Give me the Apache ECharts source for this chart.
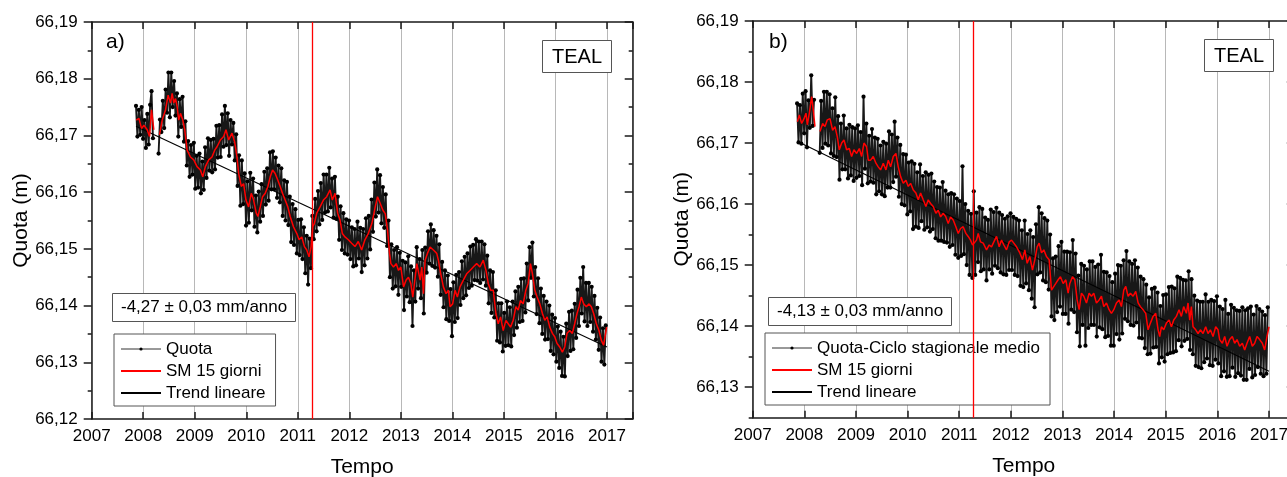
<!DOCTYPE html>
<html>
<head>
<meta charset="utf-8">
<script src="https://cdn.jsdelivr.net/npm/echarts@6/dist/echarts.min.js"></script>
<style>
  html, body { margin: 0; padding: 0; background: #fff; }
  #chart { width: 1287px; height: 477px; }
</style>
</head>
<body>
<div id="chart"></div>
<script>
// Axis ticks
const yearTicks = [2007, 2008, 2009, 2010, 2011, 2012, 2013, 2014, 2015, 2016, 2017];
const yTicksA = [66.12, 66.13, 66.14, 66.15, 66.16, 66.17, 66.18, 66.19];
const yMinorA = [66.125, 66.135, 66.145, 66.155, 66.165, 66.175, 66.185];
const yTicksB = [66.13, 66.14, 66.15, 66.16, 66.17, 66.18, 66.19];
const yMinorB = [66.125, 66.135, 66.145, 66.155, 66.165, 66.175, 66.185];

// Daily elevations sampled every 10 days from the first epoch (null = no data)
const quotaStart = 2007.86;
const quotaStepDays = 10;

// a) elevation (m)
const quotaA = [
66.1752,66.1698,66.1745,66.1701,66.1750,66.1694,66.1727,66.1678,66.1738,66.1684,
66.1754,66.1778,66.1695,null,null,null,66.1668,66.1728,66.1706,66.1761,
66.1713,66.1781,66.1740,66.1811,66.1732,66.1811,66.1750,66.1796,66.1735,66.1774,
66.1698,66.1764,66.1715,66.1768,66.1689,66.1725,66.1647,66.1690,66.1627,66.1683,
66.1631,66.1687,66.1606,66.1664,66.1608,66.1668,66.1598,66.1654,66.1604,66.1679,
66.1625,66.1695,66.1638,66.1692,66.1635,66.1694,66.1640,66.1717,66.1661,66.1718,
66.1662,66.1737,66.1680,66.1752,66.1683,66.1739,66.1664,66.1727,66.1684,66.1722,
66.1656,66.1702,66.1611,66.1665,66.1576,66.1656,66.1579,66.1633,66.1541,66.1619,
66.1546,66.1634,66.1568,66.1624,66.1539,66.1594,66.1529,66.1601,66.1548,66.1614,
66.1558,66.1636,66.1578,66.1642,66.1585,66.1670,66.1605,66.1672,66.1605,66.1661,
66.1590,66.1647,66.1582,66.1642,66.1558,66.1621,66.1550,66.1618,66.1542,66.1592,
66.1512,66.1579,66.1507,66.1570,66.1492,66.1551,66.1489,66.1552,66.1482,66.1538,
66.1457,66.1523,66.1437,66.1518,66.1466,66.1558,66.1517,66.1588,66.1531,66.1602,
66.1543,66.1616,66.1551,66.1631,66.1564,66.1631,66.1566,66.1643,66.1573,66.1624,
66.1555,66.1627,66.1553,66.1592,66.1516,66.1575,66.1498,66.1563,66.1492,66.1552,
66.1490,66.1550,66.1482,66.1538,66.1469,66.1535,66.1471,66.1548,66.1483,66.1537,
66.1459,66.1535,66.1471,66.1554,66.1483,66.1558,66.1499,66.1587,66.1530,66.1617,
66.1557,66.1640,66.1564,66.1630,66.1545,66.1609,66.1537,66.1596,66.1505,66.1550,
66.1450,66.1508,66.1430,66.1498,66.1434,66.1503,66.1419,66.1493,66.1433,66.1479,
66.1392,66.1476,66.1416,66.1487,66.1406,66.1469,66.1364,66.1462,66.1407,66.1503,
66.1430,66.1482,66.1413,66.1498,66.1386,66.1502,66.1458,66.1531,66.1474,66.1543,
66.1470,66.1533,66.1467,66.1523,66.1451,66.1508,66.1419,66.1477,66.1397,66.1462,
66.1376,66.1453,66.1373,66.1429,66.1346,66.1441,66.1371,66.1454,66.1378,66.1459,
66.1401,66.1478,66.1413,66.1486,66.1418,66.1492,66.1431,66.1504,66.1435,66.1507,
66.1445,66.1517,66.1444,66.1513,66.1440,66.1513,66.1446,66.1508,66.1435,66.1488,
66.1404,66.1462,66.1387,66.1459,66.1379,66.1427,66.1338,66.1404,66.1335,66.1404,
66.1319,66.1387,66.1329,66.1407,66.1330,66.1397,66.1328,66.1407,66.1348,66.1425,
66.1361,66.1433,66.1371,66.1447,66.1373,66.1448,66.1388,66.1474,66.1409,66.1503,
66.1449,66.1511,66.1416,66.1468,66.1385,66.1448,66.1369,66.1430,66.1350,66.1417,
66.1340,66.1407,66.1341,66.1400,66.1320,66.1384,66.1314,66.1378,66.1301,66.1363,
66.1290,66.1354,66.1276,66.1345,66.1275,66.1368,66.1311,66.1389,66.1320,66.1391,
66.1323,66.1403,66.1343,66.1428,66.1364,66.1449,66.1386,66.1468,66.1372,66.1440,
66.1364,66.1440,66.1371,66.1433,66.1354,66.1417,66.1340,66.1396,66.1322,66.1379,
66.1301,66.1360,66.1296,66.1365
];

// b) elevation minus mean seasonal cycle (m)
const quotaB = [
66.1765,66.1701,66.1762,66.1699,66.1781,66.1716,66.1785,66.1693,66.1770,66.1725,
66.1811,66.1728,66.1771,null,null,null,66.1684,66.1769,66.1692,66.1784,
66.1699,66.1784,66.1696,66.1780,66.1683,66.1757,66.1679,66.1775,66.1677,66.1744,
66.1640,66.1732,66.1657,66.1745,66.1657,66.1724,66.1642,66.1730,66.1647,66.1726,
66.1638,66.1724,66.1643,66.1729,66.1646,66.1718,66.1631,66.1776,66.1658,66.1732,
66.1634,66.1712,66.1637,66.1723,66.1635,66.1709,66.1616,66.1707,66.1621,66.1696,
66.1616,66.1702,66.1613,66.1699,66.1627,66.1719,66.1627,66.1714,66.1636,66.1735,
66.1645,66.1709,66.1612,66.1697,66.1600,66.1682,66.1598,66.1681,66.1583,66.1668,
66.1588,66.1670,66.1559,66.1666,66.1563,66.1652,66.1561,66.1665,66.1572,66.1646,
66.1558,66.1652,66.1562,66.1648,66.1555,66.1650,66.1559,66.1637,66.1544,66.1628,
66.1540,66.1627,66.1540,66.1636,66.1538,66.1622,66.1537,66.1616,66.1530,66.1618,
66.1533,66.1616,66.1517,66.1609,66.1512,66.1605,66.1515,66.1662,66.1518,66.1600,
66.1500,66.1589,66.1484,66.1584,66.1479,66.1621,66.1484,66.1586,66.1505,66.1595,
66.1490,66.1592,66.1493,66.1578,66.1475,66.1574,66.1493,66.1591,66.1486,66.1587,
66.1499,66.1594,66.1495,66.1586,66.1488,66.1582,66.1485,66.1576,66.1484,66.1580,
66.1492,66.1585,66.1492,66.1579,66.1484,66.1576,66.1482,66.1573,66.1466,66.1557,
66.1464,66.1573,66.1470,66.1551,66.1459,66.1557,66.1445,66.1546,66.1431,66.1567,
66.1485,66.1595,66.1488,66.1585,66.1475,66.1577,66.1472,66.1573,66.1460,66.1550,
66.1416,66.1511,66.1410,66.1514,66.1423,66.1531,66.1432,66.1538,66.1420,66.1522,
66.1420,66.1522,66.1404,66.1521,66.1427,66.1541,66.1423,66.1519,66.1390,66.1483,
66.1367,66.1502,66.1402,66.1499,66.1368,66.1493,66.1397,66.1506,66.1402,66.1506,
66.1402,66.1497,66.1383,66.1501,66.1398,66.1517,66.1395,66.1489,66.1382,66.1488,
66.1384,66.1482,66.1368,66.1472,66.1368,66.1486,66.1387,66.1500,66.1378,66.1499,
66.1388,66.1508,66.1412,66.1523,66.1408,66.1506,66.1402,66.1502,66.1401,66.1508,
66.1406,66.1496,66.1381,66.1481,66.1380,66.1477,66.1364,66.1468,66.1354,66.1447,
66.1355,66.1461,66.1365,66.1463,66.1366,66.1455,66.1339,66.1433,66.1349,66.1451,
66.1342,66.1452,66.1354,66.1464,66.1356,66.1465,66.1357,66.1462,66.1359,66.1481,
66.1377,66.1479,66.1367,66.1476,66.1376,66.1475,66.1379,66.1490,66.1361,66.1477,
66.1354,66.1450,66.1335,66.1442,66.1333,66.1440,66.1331,66.1440,66.1341,66.1452,
66.1347,66.1440,66.1336,66.1443,66.1335,66.1441,66.1345,66.1449,66.1339,66.1432,
66.1318,66.1428,66.1326,66.1443,66.1317,66.1420,66.1318,66.1435,66.1332,66.1430,
66.1317,66.1426,66.1323,66.1425,66.1319,66.1431,66.1312,66.1426,66.1312,66.1429,
66.1330,66.1432,66.1316,66.1419,66.1320,66.1433,66.1333,66.1428,66.1322,66.1424,
66.1318,66.1418,66.1322,66.1431
];

// 15-day moving average [year, m]
const smA = [
[2007.865,66.1727],[2007.916,66.1730],[2007.968,66.1712],[2008.013,66.1718],[2008.077,66.1710],
[2008.123,66.1698],[2008.161,66.1745],[2008.206,66.1710],[2008.26,null],[2008.316,66.1701],
[2008.368,66.1727],[2008.432,66.1745],[2008.484,66.1771],[2008.529,66.1757],[2008.561,66.1774],
[2008.594,66.1757],[2008.626,66.1765],[2008.658,66.1751],[2008.690,66.1727],[2008.723,66.1739],
[2008.768,66.1727],[2008.806,66.1710],[2008.852,66.1674],[2008.916,66.1662],[2008.981,66.1657],
[2009.045,66.1645],[2009.110,66.1639],[2009.155,66.1627],[2009.206,66.1645],[2009.271,66.1657],
[2009.335,66.1662],[2009.387,66.1674],[2009.432,66.1680],[2009.497,66.1692],[2009.561,66.1698],
[2009.606,66.1710],[2009.658,66.1692],[2009.723,66.1704],[2009.774,66.1689],[2009.819,66.1662],
[2009.852,66.1633],[2009.903,66.1610],[2009.948,66.1615],[2009.994,66.1586],[2010.045,66.1574],
[2010.097,66.1598],[2010.142,66.1586],[2010.194,66.1563],[2010.226,66.1557],[2010.271,66.1574],
[2010.316,66.1592],[2010.368,66.1598],[2010.419,66.1610],[2010.465,66.1627],[2010.510,66.1639],
[2010.561,66.1633],[2010.613,66.1621],[2010.658,66.1610],[2010.703,66.1598],[2010.755,66.1586],
[2010.806,66.1574],[2010.852,66.1557],[2010.916,66.1539],[2010.981,66.1527],[2011.026,66.1516],
[2011.077,66.1521],[2011.129,66.1504],[2011.174,66.1498],[2011.219,66.1486],[2011.258,66.1504],
[2011.290,66.1539],[2011.323,66.1545],[2011.368,66.1563],[2011.432,66.1574],[2011.497,66.1586],
[2011.561,66.1592],[2011.626,66.1604],[2011.671,66.1586],[2011.723,66.1598],[2011.774,66.1563],
[2011.819,66.1551],[2011.865,66.1527],[2011.916,66.1521],[2011.981,66.1516],[2012.045,66.1510],
[2012.110,66.1504],[2012.174,66.1513],[2012.239,66.1498],[2012.303,66.1516],[2012.368,66.1527],
[2012.439,66.1545],[2012.503,66.1574],[2012.548,66.1592],[2012.600,66.1580],[2012.652,66.1568],
[2012.697,66.1562],[2012.742,66.1533],[2012.781,66.1492],[2012.806,66.1474],[2012.858,66.1468],
[2012.910,66.1474],[2012.955,66.1462],[2013.000,66.1468],[2013.052,66.1433],[2013.103,66.1445],
[2013.148,66.1450],[2013.194,66.1439],[2013.232,66.1415],[2013.310,66.1474],[2013.374,66.1445],
[2013.406,66.1468],[2013.439,66.1421],[2013.471,66.1480],[2013.516,66.1492],[2013.568,66.1503],
[2013.632,66.1498],[2013.697,66.1492],[2013.729,66.1480],[2013.774,66.1456],[2013.826,66.1433],
[2013.877,66.1421],[2013.923,66.1427],[2013.955,66.1398],[2014.006,66.1403],[2014.052,66.1427],
[2014.097,66.1415],[2014.148,66.1433],[2014.213,66.1445],[2014.277,66.1456],[2014.342,66.1462],
[2014.406,66.1468],[2014.471,66.1474],[2014.535,66.1468],[2014.600,66.1480],[2014.652,66.1462],
[2014.697,66.1439],[2014.742,66.1427],[2014.794,66.1427],[2014.845,66.1386],[2014.890,66.1368],
[2014.935,66.1380],[2014.987,66.1356],[2015.039,66.1374],[2015.084,66.1368],[2015.129,66.1362],
[2015.181,66.1374],[2015.232,66.1398],[2015.277,66.1392],[2015.323,66.1409],[2015.374,66.1403],
[2015.426,66.1427],[2015.471,66.1439],[2015.516,66.1474],[2015.555,66.1456],[2015.600,66.1427],
[2015.645,66.1415],[2015.697,66.1403],[2015.748,66.1386],[2015.794,66.1374],[2015.839,66.1380],
[2015.890,66.1362],[2015.942,66.1351],[2015.987,66.1345],[2016.032,66.1333],[2016.084,66.1327],
[2016.135,66.1318],[2016.181,66.1327],[2016.226,66.1351],[2016.277,66.1356],[2016.329,66.1351],
[2016.374,66.1368],[2016.419,66.1386],[2016.458,66.1398],[2016.503,66.1415],[2016.548,66.1403],
[2016.600,66.1398],[2016.652,66.1403],[2016.697,66.1398],[2016.742,66.1386],[2016.794,66.1368],
[2016.845,66.1356],[2016.890,66.1339],[2016.935,66.1330],[2016.974,66.1351],[2016.994,66.1362]
];

const smB = [
[2007.865,66.1735],[2007.903,66.1746],[2007.948,66.1732],[2007.994,66.1740],[2008.032,66.1749],
[2008.058,66.1730],[2008.097,66.1749],[2008.142,66.1776],[2008.174,66.1754],[2008.206,66.1727],
[2008.25,null],[2008.303,66.1719],[2008.355,66.1732],[2008.400,66.1727],[2008.445,66.1738],
[2008.497,66.1740],[2008.548,66.1721],[2008.594,66.1727],[2008.639,66.1710],[2008.677,66.1689],
[2008.723,66.1700],[2008.768,66.1705],[2008.819,66.1689],[2008.871,66.1691],[2008.916,66.1678],
[2008.961,66.1689],[2009.013,66.1683],[2009.065,66.1691],[2009.110,66.1678],[2009.155,66.1700],
[2009.206,66.1694],[2009.239,66.1672],[2009.284,66.1672],[2009.335,66.1678],[2009.387,66.1667],
[2009.432,66.1661],[2009.477,66.1656],[2009.529,66.1667],[2009.581,66.1656],[2009.626,66.1672],
[2009.671,66.1661],[2009.723,66.1678],[2009.774,66.1683],[2009.819,66.1661],[2009.865,66.1645],
[2009.916,66.1634],[2009.968,66.1639],[2010.013,66.1629],[2010.058,66.1634],[2010.110,66.1623],
[2010.161,66.1618],[2010.206,66.1607],[2010.252,66.1618],[2010.303,66.1607],[2010.355,66.1596],
[2010.400,66.1607],[2010.445,66.1601],[2010.497,66.1596],[2010.548,66.1585],[2010.594,66.1590],
[2010.639,66.1579],[2010.690,66.1585],[2010.742,66.1579],[2010.787,66.1568],[2010.832,66.1579],
[2010.884,66.1574],[2010.935,66.1563],[2010.981,66.1552],[2011.026,66.1560],[2011.077,66.1563],
[2011.129,66.1552],[2011.174,66.1547],[2011.219,66.1541],[2011.258,66.1533],[2011.290,66.1530],
[2011.335,66.1541],[2011.368,66.1552],[2011.413,66.1538],[2011.465,66.1536],[2011.529,66.1525],
[2011.581,66.1533],[2011.626,66.1530],[2011.671,66.1538],[2011.723,66.1547],[2011.774,66.1530],
[2011.819,66.1541],[2011.865,66.1533],[2011.916,66.1525],[2011.968,66.1538],[2012.013,66.1541],
[2012.058,66.1536],[2012.110,66.1530],[2012.174,66.1520],[2012.226,66.1509],[2012.271,66.1525],
[2012.316,66.1503],[2012.368,66.1514],[2012.419,66.1492],[2012.465,66.1509],[2012.510,66.1530],
[2012.548,66.1536],[2012.594,66.1520],[2012.639,66.1525],[2012.690,66.1514],[2012.742,66.1509],
[2012.787,66.1459],[2012.819,66.1462],[2012.871,66.1470],[2012.916,66.1476],[2012.961,66.1481],
[2013.013,66.1470],[2013.065,66.1476],[2013.110,66.1454],[2013.142,66.1470],[2013.194,66.1481],
[2013.239,66.1476],[2013.284,66.1443],[2013.323,66.1427],[2013.368,66.1454],[2013.413,66.1449],
[2013.465,66.1438],[2013.516,66.1454],[2013.561,66.1449],[2013.606,66.1454],[2013.658,66.1438],
[2013.710,66.1443],[2013.755,66.1449],[2013.800,66.1432],[2013.852,66.1438],[2013.903,66.1427],
[2013.948,66.1421],[2013.994,66.1427],[2014.045,66.1438],[2014.097,66.1443],[2014.142,66.1432],
[2014.187,66.1459],[2014.226,66.1465],[2014.271,66.1449],[2014.316,66.1454],[2014.368,66.1449],
[2014.419,66.1457],[2014.465,66.1438],[2014.510,66.1432],[2014.561,66.1427],[2014.613,66.1421],
[2014.658,66.1394],[2014.703,66.1405],[2014.755,66.1416],[2014.806,66.1421],[2014.852,66.1394],
[2014.884,66.1383],[2014.916,66.1399],[2014.961,66.1394],[2015.013,66.1405],[2015.065,66.1410],
[2015.110,66.1399],[2015.155,66.1410],[2015.206,66.1416],[2015.258,66.1427],[2015.303,66.1416],
[2015.348,66.1432],[2015.400,66.1421],[2015.432,66.1438],[2015.465,66.1410],[2015.497,66.1432],
[2015.529,66.1399],[2015.581,66.1394],[2015.626,66.1388],[2015.671,66.1394],[2015.723,66.1388],
[2015.774,66.1399],[2015.819,66.1388],[2015.865,66.1394],[2015.916,66.1383],[2015.968,66.1399],
[2016.013,66.1394],[2016.045,66.1378],[2016.097,66.1372],[2016.142,66.1383],[2016.187,66.1367],
[2016.239,66.1378],[2016.290,66.1383],[2016.335,66.1372],[2016.381,66.1378],[2016.432,66.1367],
[2016.484,66.1372],[2016.529,66.1361],[2016.574,66.1372],[2016.626,66.1383],[2016.677,66.1367],
[2016.723,66.1372],[2016.768,66.1383],[2016.819,66.1378],[2016.871,66.1372],[2016.916,66.1361],
[2016.961,66.1383],[2017.000,66.1399]
];

// Linear trend end points [year, m]
const trendA = [[2007.86, 66.1716], [2017.0, 66.1327]];
const trendB = [[2007.86, 66.1703], [2017.0, 66.1326]];

const eventYear = 2011.28;
const rateA = '-4,27 \u00b1 0,03 mm/anno';
const rateB = '-4,13 \u00b1 0,03 mm/anno';
const stationName = 'TEAL';

const xMin = 2007, xMax = 2017.5;
const fontFamily = '"Liberation Sans", Arial, sans-serif';
const axisColor = '#1a1a1a';
const boxColor = '#555';

function toYearPairs(values) {
  return values.map((v, i) => [quotaStart + i * quotaStepDays / 365.25, v]);
}

function xAxes(gridIndex) {
  const line = { color: axisColor, width: 1.5 };
  const base = {
    type: 'value', gridIndex, min: xMin, max: xMax, interval: 1,
    axisLine: { show: true, onZero: false, lineStyle: line },
    axisTick: { show: true, inside: true, length: 7, lineStyle: line }
  };
  return [
    Object.assign({}, base, {
      position: 'bottom',
      name: 'Tempo', nameLocation: 'middle', nameGap: 38,
      nameTextStyle: { fontSize: 21, fontFamily, color: '#000' },
      axisLabel: {
        fontSize: 17, fontFamily, color: '#000', margin: 9,
        formatter: v => (yearTicks.indexOf(v) >= 0 ? String(v) : '')
      },
      splitLine: { show: true, lineStyle: { color: '#b8b8b8', width: 1 } }
    }),
    Object.assign({}, base, {
      position: 'top', axisLabel: { show: false }, splitLine: { show: false }
    })
  ];
}

function yAxes(gridIndex, min, max, major, minor) {
  const line = { color: axisColor, width: 1.5 };
  const base = { type: 'value', gridIndex, min, max, splitLine: { show: false } };
  return [
    Object.assign({}, base, {
      position: 'left',
      name: 'Quota (m)', nameLocation: 'middle', nameGap: 58,
      nameTextStyle: { fontSize: 21, fontFamily, color: '#000' },
      axisLine: { show: true, onZero: false, lineStyle: line },
      axisTick: { show: true, inside: false, length: 8, customValues: major, lineStyle: line },
      axisLabel: {
        show: true, customValues: major, margin: 14,
        fontSize: 17, fontFamily, color: '#000',
        formatter: v => v.toFixed(2).replace('.', ',')
      }
    }),
    Object.assign({}, base, {
      position: 'left',
      axisLine: { show: false },
      axisTick: { show: true, inside: false, length: 4, customValues: minor, lineStyle: line },
      axisLabel: { show: false }
    }),
    Object.assign({}, base, {
      position: 'right',
      axisLine: { show: true, onZero: false, lineStyle: line },
      axisTick: { show: true, inside: true, length: 8, customValues: major, lineStyle: line },
      axisLabel: { show: false }
    }),
    Object.assign({}, base, {
      position: 'right',
      axisLine: { show: false },
      axisTick: { show: true, inside: true, length: 4, customValues: minor, lineStyle: line },
      axisLabel: { show: false }
    })
  ];
}

function panelSeries(xIdx, yIdx, quotaName, quota, sm, trend) {
  return [
    {
      name: quotaName, type: 'line', xAxisIndex: xIdx, yAxisIndex: yIdx,
      data: toYearPairs(quota), connectNulls: false,
      symbol: 'circle', symbolSize: 4.2, showSymbol: true,
      itemStyle: { color: '#000' },
      lineStyle: { color: '#181818', width: 1.9 },
      z: 2
    },
    {
      name: 'Trend lineare', type: 'line', xAxisIndex: xIdx, yAxisIndex: yIdx,
      data: trend, symbol: 'none',
      itemStyle: { color: '#000' },
      lineStyle: { color: '#000', width: 1.1 },
      z: 3
    },
    {
      name: 'SM 15 giorni', type: 'line', xAxisIndex: xIdx, yAxisIndex: yIdx,
      data: sm, connectNulls: false, symbol: 'none',
      itemStyle: { color: '#ff0000' },
      lineStyle: { color: '#ff0000', width: 1.5 },
      markLine: {
        silent: true, symbol: 'none', label: { show: false },
        lineStyle: { color: '#ff0000', width: 1.3, type: 'solid' },
        data: [{ xAxis: eventYear }]
      },
      z: 4
    }
  ];
}

function legend(left, top, names) {
  return {
    left, top, orient: 'vertical', selectedMode: false,
    itemWidth: 40, itemHeight: 4, itemGap: 2,
    padding: [5, 10, 3, 6],
    borderColor: boxColor, borderWidth: 1, backgroundColor: '#fff',
    textStyle: { fontSize: 17, fontFamily, color: '#000', lineHeight: 20 },
    data: names.map((n, i) => i === 0
      ? { name: n, lineStyle: { width: 1, color: '#333' } }
      : { name: n, itemStyle: { opacity: 0 } })
  };
}

function boxTitle(text, left, top, size, padding) {
  return {
    text, left, top, padding,
    borderWidth: 1, borderColor: boxColor, backgroundColor: '#fff',
    textStyle: { fontSize: size, fontWeight: 'normal', fontFamily, color: '#000' }
  };
}

const chart = echarts.init(document.getElementById('chart'), null, { renderer: 'canvas' });
chart.setOption({
  animation: false,
  backgroundColor: '#fff',
  grid: [
    { left: 91.7, top: 22, width: 541, height: 397, outerBoundsMode: 'none' },
    { left: 752.7, top: 21, width: 542.1, height: 396.7, outerBoundsMode: 'none' }
  ],
  xAxis: [].concat(xAxes(0), xAxes(1)),
  yAxis: [].concat(
    yAxes(0, 66.12, 66.19, yTicksA, yMinorA),
    yAxes(1, 66.125, 66.19, yTicksB, yMinorB)
  ),
  title: [
    { text: 'a)', left: 106, top: 32, padding: 0, textStyle: { fontSize: 21, fontWeight: 'normal', fontFamily, color: '#000' } },
    { text: 'b)', left: 769, top: 32, padding: 0, textStyle: { fontSize: 21, fontWeight: 'normal', fontFamily, color: '#000' } },
    boxTitle(stationName, 542, 40, 20, [7, 10, 6, 10]),
    boxTitle(stationName, 1204, 39, 20, [7, 10, 6, 10]),
    boxTitle(rateA, 112, 293, 17, [6, 9, 6, 9]),
    boxTitle(rateB, 768, 297, 17, [6, 9, 6, 9])
  ],
  legend: [
    legend(114, 334, ['Quota', 'SM 15 giorni', 'Trend lineare']),
    legend(765, 333, ['Quota-Ciclo stagionale medio', 'SM 15 giorni', 'Trend lineare'])
  ],
  series: [].concat(
    panelSeries(0, 0, 'Quota', quotaA, smA, trendA),
    panelSeries(2, 4, 'Quota-Ciclo stagionale medio', quotaB, smB, trendB)
  )
});
</script>
</body>
</html>
